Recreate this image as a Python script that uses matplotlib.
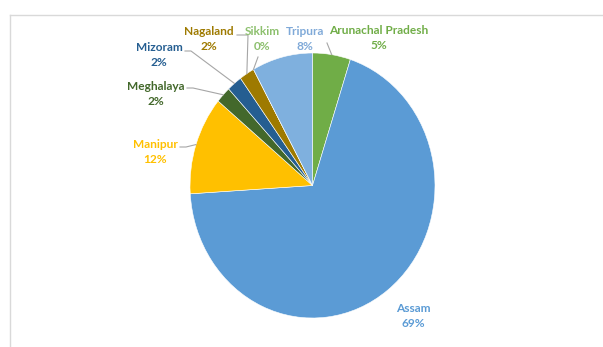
import numpy as np
import matplotlib
matplotlib.use("Agg")
import matplotlib.pyplot as plt
from matplotlib.lines import Line2D

# Share of each state (per cent)
states = ["Arunachal Pradesh", "Assam", "Manipur", "Meghalaya",
          "Mizoram", "Nagaland", "Sikkim", "Tripura"]
shares = [5, 69, 12, 2, 2, 2, 0, 8]
colors = ["#70AD47", "#5B9BD5", "#FFC000", "#43682B",
          "#255E91", "#9E7A00", "#A9D18E", "#7FB0DE"]
label_colors = ["#70AD47", "#5B9BD5", "#FFC000", "#43682B",
                "#255E91", "#9E7A00", "#8DC06E", "#7FA9D8"]

W, H = 603, 347
fig = plt.figure(figsize=(W / 100, H / 100), dpi=100)
fig.patch.set_facecolor("white")

# pie geometry in pixels (slightly taller than wide)
cx, cy, rx, ry = 312.5, 185.5, 122.5, 132.5
ax = fig.add_axes([(cx - rx) / W, (H - cy - ry) / H, 2 * rx / W, 2 * ry / H])

wedges, _ = ax.pie(shares, colors=colors, startangle=90, counterclock=False,
                   radius=1.0, wedgeprops=dict(edgecolor="white", linewidth=0.4))
ax.set_xlim(-1, 1)
ax.set_ylim(-1, 1)
ax.set_aspect("auto")
ax.axis("off")


def px(x, y):
    """pixel position -> pie axes data coordinates"""
    return (x - cx) / rx, (cy - y) / ry


# label block centres in pixels
label_pos = {
    "Arunachal Pradesh": (379, 38),
    "Assam": (413, 316),
    "Manipur": (155, 152),
    "Meghalaya": (156, 94),
    "Mizoram": (159, 55),
    "Nagaland": (209, 39),
    "Sikkim": (262, 39),
    "Tripura": (305, 39),
}

# leader line start points (pixels); the end point sits on the wedge rim
leaders = {
    "Arunachal Pradesh": [(327, 43)],
    "Nagaland": [(237, 35), (248, 35)],
    "Sikkim": [(258, 57)],
    "Mizoram": [(185, 51), (191, 51)],
    "Meghalaya": [(187, 88), (193, 88)],
    "Manipur": [(180, 147), (186, 147)],
}

total = float(sum(shares))
cum = np.concatenate([[0], np.cumsum(shares)])
for i, name in enumerate(states):
    mid = (cum[i] + cum[i + 1]) / 2 / total
    ang = np.deg2rad(90 - 360 * mid)
    if name in leaders:
        pts = [px(*p) for p in leaders[name]] + [(np.cos(ang), np.sin(ang))]
        xs, ys = zip(*pts)
        ax.add_line(Line2D(xs, ys, color="#A6A6A6", lw=0.8, clip_on=False))
    lx, ly = px(*label_pos[name])
    ax.text(lx, ly, f"{name}\n{shares[i]:.0f}%", ha="center", va="center",
            color=label_colors[i], fontsize=8.6, fontweight="bold",
            family="Lato", linespacing=1.5, clip_on=False)

# thin chart-area frame
fig.add_artist(Line2D([10 / W, 1], [1 - 15 / H, 1 - 15 / H],
                      color="#D9D9D9", lw=1.0, transform=fig.transFigure))
fig.add_artist(Line2D([10 / W, 10 / W], [0, 1 - 15 / H],
                      color="#D9D9D9", lw=1.0, transform=fig.transFigure))

fig.savefig("out.png", dpi=100, facecolor="white")
